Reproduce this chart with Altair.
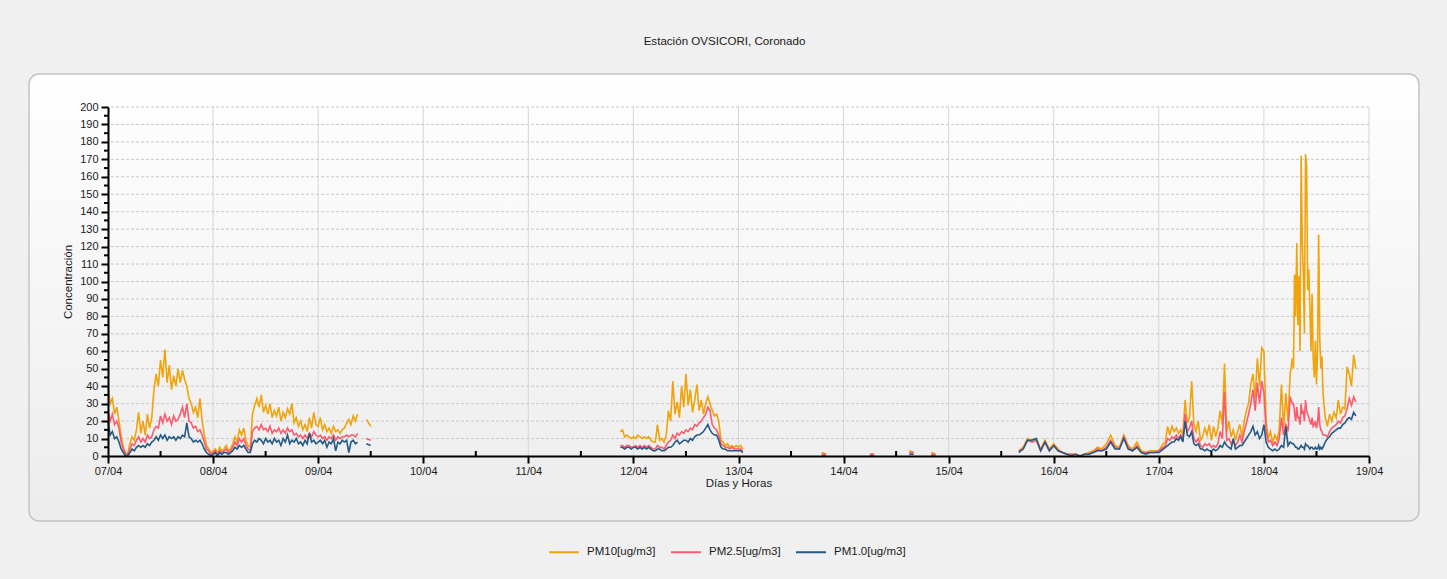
import altair as alt
import pandas as pd
from datetime import datetime, timedelta

# ---------------------------------------------------------------------------
# Series and colours
# ---------------------------------------------------------------------------
SERIES = ["PM10[ug/m3]", "PM2.5[ug/m3]", "PM1.0[ug/m3]"]
COLORS = ["#f0a30a", "#fc5a6e", "#245a84"]
YEAR = 2023

# ---------------------------------------------------------------------------
# Measurements, grouped in contiguous runs (start, step in minutes)
# ---------------------------------------------------------------------------
# 07/04 00:00 -> 09/04 09:00, every 30 minutes
run_a_start = "2023-04-07 00:00"
run_a_pm10 = [40, 30, 33, 24, 28, 20, 12, 5, 2, 1, 7, 11, 9, 15, 25, 13,
              20, 12, 24, 16, 22, 38, 47, 40, 55, 45, 61, 42, 52, 38, 46, 40,
              50, 42, 49, 44, 40, 33, 30, 25, 28, 22, 33, 20, 12, 6, 4, 2,
              3, 4, 2, 5, 3, 4, 6, 3, 4, 7, 11, 8, 15, 12, 16, 9,
              6, 5, 24, 29, 33, 28, 35, 25, 29, 24, 30, 22, 26, 23, 28, 20,
              25, 22, 27, 24, 30, 19, 22, 17, 20, 15, 18, 14, 22, 16, 25, 18,
              17, 22, 15, 18, 14, 16, 13, 17, 14, 15, 13, 15, 16, 19, 21, 18, 23, 20, 24]
run_a_pm25 = [26, 20, 24, 18, 20, 16, 8, 4, 1, 1, 4, 7, 6, 9, 11, 8,
              10, 8, 12, 10, 11, 15, 17, 16, 23, 19, 24, 20, 22, 18, 23, 20,
              21, 24, 28, 22, 30, 20, 19, 16, 17, 14, 15, 12, 8, 4, 3, 1,
              2, 3, 1, 3, 2, 3, 4, 2, 3, 5, 8, 6, 10, 8, 10, 6,
              4, 3, 14, 16, 17, 15, 18, 15, 16, 14, 17, 13, 15, 14, 16, 13,
              15, 13, 16, 14, 15, 12, 13, 11, 12, 10, 12, 10, 13, 11, 14, 12,
              11, 12, 10, 11, 9, 11, 10, 12, 9, 11, 10, 11, 11, 12, 11, 12, 12, 11, 13]
run_a_pm1 = [20, 12, 14, 10, 11, 8, 4, 2, 0, 0, 2, 4, 3, 5, 6, 5,
             6, 5, 7, 6, 8, 9, 11, 9, 12, 10, 12, 9, 11, 10, 11, 9,
             11, 10, 12, 11, 19, 11, 10, 8, 9, 8, 9, 7, 4, 2, 1, 0,
             1, 2, 0, 2, 1, 2, 2, 1, 2, 3, 5, 4, 6, 5, 6, 4,
             2, 2, 7, 9, 8, 10, 9, 7, 10, 8, 9, 7, 10, 8, 9, 6,
             10, 8, 12, 7, 9, 8, 10, 7, 8, 6, 9, 7, 13, 8, 9, 7,
             8, 9, 7, 9, 5, 8, 7, 10, 3, 8, 7, 9, 8, 9, 2, 8, 9, 7, 8]

# 09/04 late morning, a few isolated readings
run_b_start = "2023-04-09 11:00"
run_b_pm10 = [21, 17]
run_b_pm25 = [10, 9]
run_b_pm1 = [7, 6]

# 11/04 21:00 -> 13/04 01:00, every 30 minutes
run_c_start = "2023-04-11 21:00"
run_c_pm10 = [14, 15, 11, 12, 11, 10,
              11, 10, 12, 11, 10, 11, 10, 11, 9, 8, 8, 18, 9, 10, 8, 12,
              26, 20, 43, 24, 31, 22, 40, 28, 47, 29, 38, 25, 32, 41, 26, 32,
              24, 30, 34, 30, 26, 23, 24, 20, 9, 8, 6, 7, 5, 6, 5, 6,
              5, 6, 4]
run_c_pm25 = [6, 6, 5, 6, 6, 5,
              5, 6, 5, 6, 5, 6, 5, 6, 5, 4, 4, 6, 5, 5, 4, 6,
              8, 9, 12, 10, 13, 12, 14, 13, 15, 14, 16, 15, 18, 17, 19, 20,
              22, 24, 28, 26, 18, 16, 15, 12, 7, 6, 5, 5, 4, 5, 4, 4,
              4, 4, 3]
run_c_pm1 = [5, 5, 4, 5, 5, 4,
             5, 5, 4, 5, 4, 5, 4, 5, 4, 3, 3, 4, 4, 3, 3, 4,
             5, 5, 6, 8, 9, 7, 8, 9, 9, 8, 10, 9, 11, 12, 12, 13,
             14, 16, 18, 15, 13, 12, 12, 9, 5, 4, 4, 3, 3, 3, 3, 3,
             3, 3, 2]

# scattered low readings on 13/04 and 14/04
run_d1_start, run_d1_pm10, run_d1_pm25, run_d1_pm1 = "2023-04-13 19:00", [2, 1], [1, 1], [0, 0]
run_d2_start, run_d2_pm10, run_d2_pm25, run_d2_pm1 = "2023-04-14 06:00", [1, 1], [1, 1], [0, 0]
run_d3_start, run_d3_pm10, run_d3_pm25, run_d3_pm1 = "2023-04-14 15:00", [3, 2], [2, 2], [1, 1]
run_d4_start, run_d4_pm10, run_d4_pm25, run_d4_pm1 = "2023-04-14 20:00", [2, 1], [1, 1], [0, 0]

# 15/04 16:00 -> 16/04 23:00, hourly
run_e1_start = "2023-04-15 16:00"
run_e1_pm10 = [3, 5, 10, 9, 10, 4, 9, 4, 7, 4, 2, 1, 1, 1, 0, 1, 2, 3, 5, 4, 7, 12, 6, 5, 12, 6, 4, 8, 3, 2, 3, 3]
run_e1_pm25 = [3, 4, 9, 8, 9, 3, 8, 3, 6, 3, 2, 1, 1, 1, 0, 1, 1, 2, 4, 3, 5, 9, 5, 4, 11, 5, 3, 6, 2, 2, 2, 2]
run_e1_pm1 = [2, 4, 9, 9, 10, 3, 8, 3, 6, 3, 2, 1, 0, 1, 0, 1, 1, 2, 3, 3, 4, 8, 4, 4, 10, 4, 3, 5, 2, 1, 2, 2]

# 17/04 00:00 -> 18/04 06:30, every 30 minutes
run_e2_start = "2023-04-17 00:00"
run_e2_pm10 = [3, 5, 7, 8, 17, 12, 17, 14, 16, 13, 15, 12, 32, 19, 22, 43, 18, 14, 20, 9, 11, 16, 12, 18,
               9, 17, 11, 16, 26, 18, 53, 14, 20, 11, 15, 9, 14, 18, 11, 20, 26, 30, 41, 47, 33, 56, 40, 62,
               60, 20, 10, 14, 8, 12, 9, 15, 41, 16, 36, 20, 47, 56]
run_e2_pm25 = [3, 4, 5, 6, 10, 9, 11, 10, 12, 10, 12, 10, 24, 14, 16, 20, 10, 8, 10, 6, 5, 7, 6, 7,
               5, 6, 5, 7, 14, 10, 37, 9, 10, 7, 9, 6, 8, 12, 8, 14, 19, 24, 30, 38, 26, 42, 30, 43,
               36, 15, 8, 9, 6, 8, 6, 10, 22, 12, 18, 14, 34, 30]
run_e2_pm1 = [2, 3, 4, 5, 6, 7, 8, 8, 10, 9, 11, 8, 20, 12, 11, 14, 7, 6, 7, 4, 4, 3, 4, 3,
              3, 4, 3, 4, 6, 5, 8, 6, 5, 4, 10, 4, 5, 6, 6, 8, 10, 12, 14, 17, 12, 14, 10, 12,
              18, 8, 5, 4, 3, 4, 3, 4, 6, 5, 17, 6, 8, 7]

# 18/04 06:45 -> 13:30, every 15 minutes (the PM10 episode)
run_e3_start = "2023-04-18 06:45"
run_e3_pm10 = [50, 104, 80, 122, 75, 103, 60, 172, 124, 105, 70, 173, 167, 95,
               107, 85, 60, 93, 57, 45, 66, 41, 60, 127, 68, 50, 57, 36]
run_e3_pm25 = [30, 25, 20, 28, 22, 22, 18, 30, 24, 26, 20, 32, 26, 24,
               22, 20, 18, 22, 17, 18, 20, 16, 19, 28, 18, 15, 14, 12]
run_e3_pm1 = [7, 6, 5, 5, 4, 4, 5, 6, 5, 5, 4, 7, 6, 6,
              5, 4, 5, 5, 4, 4, 5, 4, 4, 6, 4, 5, 4, 5]

# 18/04 14:00 -> 21:00, every 30 minutes
run_e4_start = "2023-04-18 14:00"
run_e4_pm10 = [22, 17, 24, 20, 25, 22, 32, 24, 28, 27, 51, 47, 40, 58, 50]
run_e4_pm25 = [12, 11, 14, 16, 17, 18, 20, 19, 22, 23, 27, 33, 29, 34, 31]
run_e4_pm1 = [8, 10, 11, 13, 14, 15, 16, 16, 18, 19, 21, 22, 21, 25, 23]

# (path id, start, step minutes, pm10, pm2.5, pm1.0); runs sharing an id are joined
runs = [
    ("a", run_a_start, 30, run_a_pm10, run_a_pm25, run_a_pm1),
    ("b", run_b_start, 60, run_b_pm10, run_b_pm25, run_b_pm1),
    ("c", run_c_start, 30, run_c_pm10, run_c_pm25, run_c_pm1),
    ("d1", run_d1_start, 60, run_d1_pm10, run_d1_pm25, run_d1_pm1),
    ("d2", run_d2_start, 60, run_d2_pm10, run_d2_pm25, run_d2_pm1),
    ("d3", run_d3_start, 60, run_d3_pm10, run_d3_pm25, run_d3_pm1),
    ("d4", run_d4_start, 60, run_d4_pm10, run_d4_pm25, run_d4_pm1),
    ("e", run_e1_start, 60, run_e1_pm10, run_e1_pm25, run_e1_pm1),
    ("e", run_e2_start, 30, run_e2_pm10, run_e2_pm25, run_e2_pm1),
    ("e", run_e3_start, 15, run_e3_pm10, run_e3_pm25, run_e3_pm1),
    ("e", run_e4_start, 30, run_e4_pm10, run_e4_pm25, run_e4_pm1),
]

rows = []
for seg, start, step, *values in runs:
    t0 = datetime.strptime(start, "%Y-%m-%d %H:%M")
    for name, vals in zip(SERIES, values):
        for i, v in enumerate(vals):
            t = t0 + timedelta(minutes=step * i)
            rows.append({"t": t.strftime("%Y-%m-%dT%H:%M:%S"), "v": v, "serie": name, "seg": seg})
df = pd.DataFrame(rows)

# axis furniture
day_numbers = list(range(7, 20))
noon_days = list(range(7, 19))
y_major = list(range(0, 201, 10))
y_minor = list(range(5, 200, 10))

day_df = pd.DataFrame({"t": [f"{YEAR}-04-{d:02d}T00:00:00" for d in day_numbers[1:]]})
noon_df = pd.DataFrame({"t": [f"{YEAR}-04-{d:02d}T12:00:00" for d in noon_days]})
hgrid_df = pd.DataFrame({"v": y_major[1:]})
yminor_df = pd.DataFrame({"v": y_minor})

# ---------------------------------------------------------------------------
# Layout (pixels)
# ---------------------------------------------------------------------------
W, H = 1261, 349
PAD = {"left": 108, "top": 107, "right": 78, "bottom": 123}
FONT = "Liberation Sans"

x_scale = alt.Scale(domain=[alt.DateTime(year=YEAR, month=4, date=7),
                            alt.DateTime(year=YEAR, month=4, date=19)])
y_scale = alt.Scale(domain=[0, 200], nice=False, zero=True)

x_axis = alt.Axis(
    values=[alt.DateTime(year=YEAR, month=4, date=d) for d in day_numbers],
    format="%d/%m", grid=False, tickSize=7, tickColor="black", tickWidth=2,
    domainColor="black", domainWidth=2, labelFont=FONT, labelFontSize=11,
    labelColor="#1a1a1a", labelPadding=2, labelFlush=False, labelOverlap=False,
    title="Días y Horas", titleFont=FONT, titleFontSize=11.5, titleFontWeight="normal",
    titleColor="#1a1a1a", titlePadding=1, zindex=1,
)
y_axis = alt.Axis(
    values=y_major, grid=False, tickSize=7, tickColor="black", tickWidth=2,
    domainColor="black", domainWidth=2, labelFont=FONT, labelFontSize=11,
    labelColor="#1a1a1a", labelPadding=3, labelFlush=False, labelOverlap=False,
    title="Concentración", titleFont=FONT, titleFontSize=11.5, titleFontWeight="normal",
    titleColor="#1a1a1a", titlePadding=6, zindex=1,
)

X = alt.X("t:T", scale=x_scale, axis=x_axis)
Y = alt.Y("v:Q", scale=y_scale, axis=y_axis)

panel_fill = alt.LinearGradient(
    gradient="linear", x1=0, x2=0, y1=0, y2=1,
    stops=[alt.GradientStop(color="#ffffff", offset=0),
           alt.GradientStop(color="#ececec", offset=1)],
)

panel = alt.Chart(alt.Data(values=[{}])).mark_rect(
    cornerRadius=10, stroke="#c4c4c4", strokeWidth=1.5, fill=panel_fill
).encode(
    x=alt.value(-79), x2=alt.value(1311), y=alt.value(-33), y2=alt.value(414)
)

vgrid = alt.Chart(day_df).mark_rule(color="#d6d6d6", strokeWidth=1).encode(x=X)
hgrid = alt.Chart(hgrid_df).mark_rule(color="#c8c8c8", strokeWidth=1, strokeDash=[3, 2]).encode(y=Y)
x_minor = alt.Chart(noon_df).mark_rule(color="black", strokeWidth=2).encode(
    x=X, y=alt.value(H - 5), y2=alt.value(H)
)
y_minor_ticks = alt.Chart(yminor_df).mark_rule(color="black", strokeWidth=2).encode(
    y=Y, x=alt.value(-4), x2=alt.value(0)
)

color = alt.Color(
    "serie:N",
    scale=alt.Scale(domain=SERIES, range=COLORS),
    legend=alt.Legend(
        orient="none", legendX=440, legendY=429, direction="horizontal", title=None,
        symbolType="stroke", symbolSize=900, symbolStrokeWidth=2, labelFont=FONT,
        labelFontSize=11.5, labelColor="#1a1a1a", columnPadding=11, labelOffset=7,
    ),
)


def series_line(name):
    return alt.Chart(df).transform_filter(alt.datum.serie == name).mark_line(
        strokeWidth=1.6, strokeJoin="miter", interpolate="linear"
    ).encode(x=X, y=Y, color=color, detail="seg:N")


chart = alt.layer(
    panel, vgrid, hgrid,
    series_line(SERIES[0]),
    series_line(SERIES[1]),
    series_line(SERIES[2]),
    x_minor, y_minor_ticks,
).properties(
    width=W, height=H,
    title=alt.TitleParams(
        "Estación OVSICORI, Coronado", font=FONT, fontSize=11.6, fontWeight="normal",
        color="#1a1a1a", anchor="middle", offset=26, dx=-14,
    ),
    autosize=alt.AutoSizeParams(type="none"),
    padding=PAD,
).configure(
    background="#f0f0f0",
).configure_view(
    stroke=None,
)

chart.save("out.html", embed_options={"renderer": "svg", "actions": False})
